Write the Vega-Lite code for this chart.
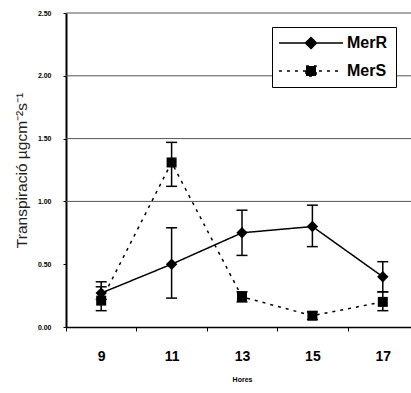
{
  "$schema": "https://vega.github.io/schema/vega-lite/v6.json",
  "width": 352,
  "height": 314,
  "autosize": "none",
  "padding": {"left": 66, "top": 13, "right": 0, "bottom": 66},
  "background": "white",
  "config": {"view": {"stroke": null}, "font": "Liberation Sans"},
  "datasets": {
    "pts": [
      {"serie": "MerR", "hora": 9, "val": 0.27, "lo": 0.22, "hi": 0.32},
      {"serie": "MerR", "hora": 11, "val": 0.50, "lo": 0.23, "hi": 0.79},
      {"serie": "MerR", "hora": 13, "val": 0.75, "lo": 0.57, "hi": 0.93},
      {"serie": "MerR", "hora": 15, "val": 0.80, "lo": 0.64, "hi": 0.97},
      {"serie": "MerR", "hora": 17, "val": 0.40, "lo": 0.28, "hi": 0.52},
      {"serie": "MerS", "hora": 9, "val": 0.21, "lo": 0.13, "hi": 0.36},
      {"serie": "MerS", "hora": 11, "val": 1.31, "lo": 1.12, "hi": 1.47},
      {"serie": "MerS", "hora": 13, "val": 0.24, "lo": 0.20, "hi": 0.28},
      {"serie": "MerS", "hora": 15, "val": 0.09, "lo": 0.06, "hi": 0.12},
      {"serie": "MerS", "hora": 17, "val": 0.20, "lo": 0.13, "hi": 0.28}
    ],
    "grid": [{"g": 1.0}, {"g": 1.5}, {"g": 2.0}, {"g": 2.5}]
  },
  "layer": [
    {
      "data": {"name": "grid"},
      "mark": {"type": "rule", "color": "#555", "strokeWidth": 1},
      "encoding": {
        "y": {"field": "g", "type": "quantitative", "title": "Transpiració µgcm⁻²s⁻¹",
              "scale": {"domain": [0, 2.5], "nice": false, "zero": false},
              "axis": {"values": [0, 0.5, 1, 1.5, 2, 2.5], "format": ".2f", "grid": false,
                       "domainColor": "black", "domainWidth": 2, "tickColor": "black", "tickSize": 3, "tickWidth": 1,
                       "labelFont": "Liberation Sans", "labelFontSize": 7, "labelFontWeight": "bold", "labelColor": "black", "labelPadding": 12,
                       "titleFont": "Liberation Sans", "titleFontSize": 15.5, "titleFontWeight": "normal", "titleColor": "#222", "titlePadding": 8}}
      }
    },
    {
      "data": {"name": "pts"},
      "layer": [
        {
          "mark": {"type": "line", "color": "black", "strokeWidth": 1.5},
          "encoding": {
            "x": {"field": "hora", "type": "ordinal", "title": "Hores",
                  "scale": {"paddingInner": 0, "paddingOuter": 0},
                  "axis": {"labelAngle": 0, "tickBand": "extent", "domainColor": "black", "domainWidth": 1.5, "tickColor": "black", "tickSize": 4,
                           "labelFont": "Liberation Sans", "labelFontSize": 14, "labelFontWeight": "bold", "labelColor": "black", "labelPadding": 18,
                           "titleFont": "Liberation Sans", "titleFontSize": 7, "titleFontWeight": "bold", "titleColor": "black", "titlePadding": 12}},
            "y": {"field": "val", "type": "quantitative", "title": "Transpiració µgcm⁻²s⁻¹"},
            "strokeDash": {"field": "serie", "type": "nominal",
                           "scale": {"domain": ["MerR", "MerS"], "range": [[1, 0], [3, 5]]},
                           "legend": {"title": null, "orient": "none", "legendX": 206, "legendY": 14,
                                      "strokeColor": "black", "fillColor": "white", "padding": 8,
                                      "labelFont": "Liberation Sans", "labelFontSize": 16, "labelFontWeight": "bold", "labelColor": "black",
                                      "symbolType": "stroke", "symbolSize": 100, "symbolStrokeWidth": 1.5, "symbolStrokeColor": "black",
                                      "symbolOffset": 23, "labelOffset": 28, "rowPadding": 11,
                                      "encode": {"symbols": {"update": {
                                        "shape": {"signal": "datum.value === 'MerR' ? 'M-6.4,0L6.4,0M0,-1.1L1.1,0L0,1.1L-1.1,0Z' : 'M-6.4,0L6.4,0M-1,-1L1,-1L1,1L-1,1Z'"},
                                        "fill": {"value": "black"},
                                        "fillOpacity": {"value": 1},
                                        "stroke": {"value": "black"},
                                        "strokeWidth": {"value": 1.5},
                                        "strokeOpacity": {"value": 1}}}}}}
          }
        },
        {
          "mark": {"type": "rule", "color": "black", "strokeWidth": 1.5},
          "encoding": {
            "x": {"field": "hora", "type": "ordinal", "title": "Hores"},
            "y": {"field": "lo", "type": "quantitative", "title": "Transpiració µgcm⁻²s⁻¹"},
            "y2": {"field": "hi"}
          }
        },
        {
          "mark": {"type": "tick", "orient": "horizontal", "color": "black", "size": 11, "thickness": 1.5, "opacity": 1},
          "encoding": {
            "x": {"field": "hora", "type": "ordinal", "title": "Hores"},
            "y": {"field": "lo", "type": "quantitative", "title": "Transpiració µgcm⁻²s⁻¹"}
          }
        },
        {
          "mark": {"type": "tick", "orient": "horizontal", "color": "black", "size": 11, "thickness": 1.5, "opacity": 1},
          "encoding": {
            "x": {"field": "hora", "type": "ordinal", "title": "Hores"},
            "y": {"field": "hi", "type": "quantitative", "title": "Transpiració µgcm⁻²s⁻¹"}
          }
        },
        {
          "mark": {"type": "point", "filled": true, "color": "black", "opacity": 1},
          "encoding": {
            "x": {"field": "hora", "type": "ordinal", "title": "Hores"},
            "y": {"field": "val", "type": "quantitative", "title": "Transpiració µgcm⁻²s⁻¹"},
            "shape": {"condition": {"test": "datum.serie === 'MerR'", "value": "diamond"}, "value": "square"},
            "size": {"condition": {"test": "datum.serie === 'MerR'", "value": 130}, "value": 100}
          }
        }
      ]
    }
  ]
}
